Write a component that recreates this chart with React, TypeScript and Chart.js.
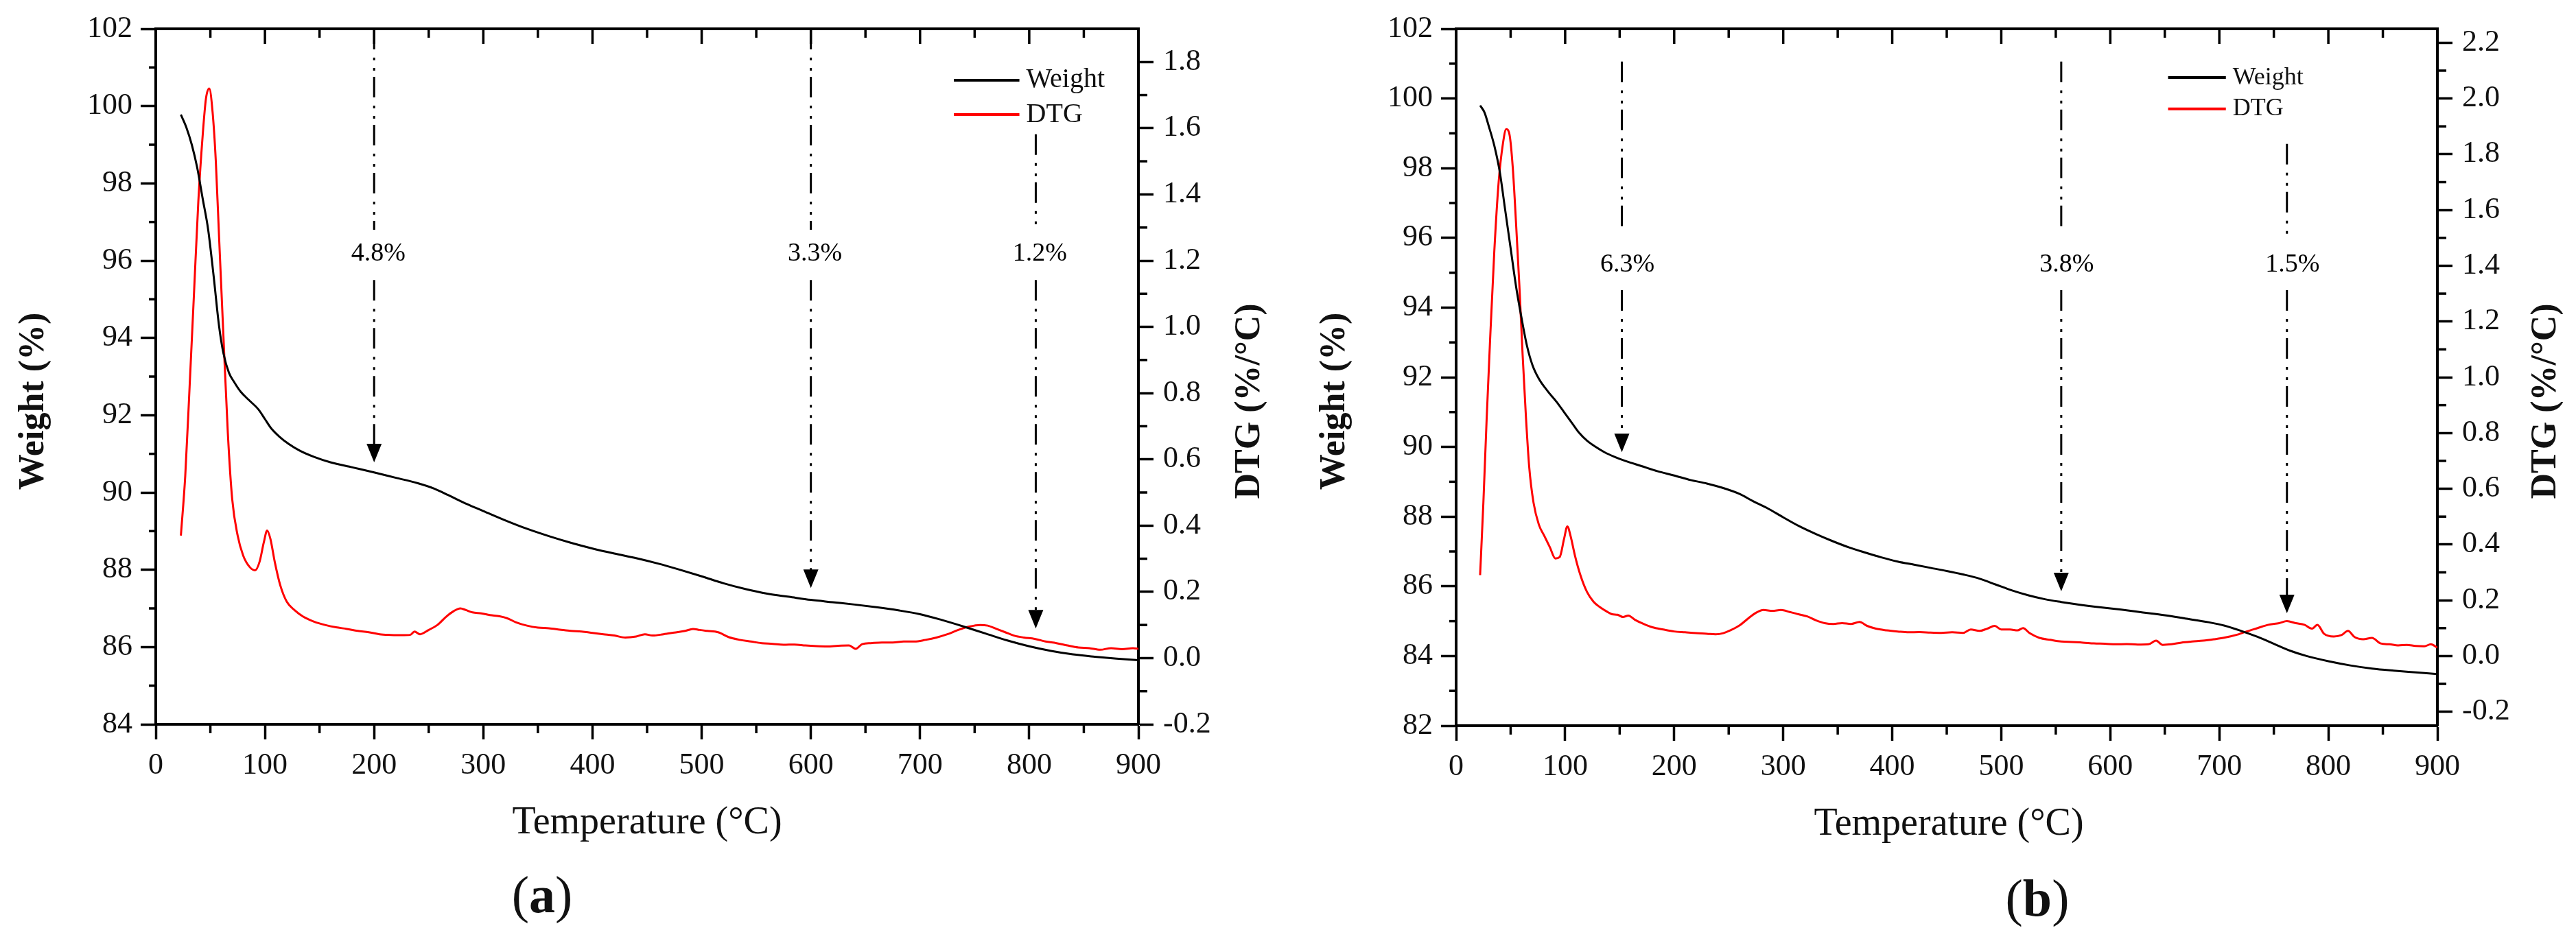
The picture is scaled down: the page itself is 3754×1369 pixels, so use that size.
import { useEffect, useRef } from "react";
import { Chart, registerables, type ChartConfiguration, type Plugin } from "chart.js";

Chart.register(...registerables);

const SERIF = '"Liberation Serif", "Times New Roman", serif';
const CW = 1877;
const CH = 1369;

/* ---------- panel (a) ---------- */
const tempWeightA = [
  23, 28, 33, 38, 43, 48, 53, 58, 62, 67, 72, 78, 85, 94, 100, 106, 113, 122, 132, 145, 160, 180, 200, 220,
  240, 255, 268, 285, 300, 320, 340, 360, 380, 400, 420, 440, 460, 480, 500, 520, 540, 560, 580, 600, 620,
  640, 660, 680, 700, 720, 740, 760, 780, 800, 820, 840, 860, 880, 900
];
const weightA = [
  99.78, 99.45, 99.0, 98.4, 97.6, 96.8, 95.6, 94.3, 93.6, 93.1, 92.85, 92.6, 92.4, 92.15, 91.9, 91.65, 91.45,
  91.25, 91.08, 90.92, 90.78, 90.65, 90.52, 90.38, 90.24, 90.1, 89.93, 89.7, 89.52, 89.28, 89.06, 88.87, 88.7,
  88.55, 88.42, 88.3, 88.16, 88.0, 87.83, 87.65, 87.5, 87.38, 87.3, 87.22, 87.16, 87.1, 87.03, 86.95, 86.85,
  86.7, 86.53, 86.35, 86.17, 86.02, 85.9, 85.81, 85.75, 85.7, 85.66
];
const tempDtgA = [
  23, 27, 31, 35, 39, 43, 46, 49, 52, 55, 58, 62, 66, 70, 75, 80, 86, 91, 95, 99, 102, 105, 109, 114, 120, 127,
  135, 145, 155, 165, 175, 185, 195, 205, 215, 225, 233, 237, 242, 250, 258, 266, 273, 279, 284, 290, 298, 306,
  315, 322, 330, 340, 350, 360, 370, 380, 390, 400, 410, 420, 430, 440, 448, 455, 465, 475, 485, 492, 498, 505,
  515, 525, 535, 545, 555, 565, 575, 585, 595, 605, 615, 625, 635, 641, 647, 655, 665, 675, 685, 695, 705, 715,
  725, 735, 745, 755, 762, 770, 778, 786, 795, 805, 815, 825, 835, 845, 855, 865, 875, 885, 895, 900
];
const dtgA = [
  0.37, 0.55, 0.82, 1.1, 1.38, 1.58, 1.69, 1.72, 1.65, 1.5, 1.27, 0.97, 0.68, 0.48, 0.37, 0.31, 0.275, 0.265,
  0.29, 0.35, 0.385, 0.36, 0.29, 0.22, 0.17, 0.145, 0.125, 0.11, 0.1, 0.093, 0.088, 0.082, 0.078, 0.072, 0.07,
  0.069, 0.07, 0.08, 0.072, 0.085, 0.1, 0.125, 0.142, 0.15, 0.145, 0.138, 0.135, 0.13, 0.126, 0.12, 0.108,
  0.098, 0.092, 0.09, 0.086, 0.082, 0.08, 0.076, 0.072, 0.068, 0.062, 0.065, 0.072, 0.068, 0.072, 0.077, 0.082,
  0.088, 0.085, 0.082, 0.078, 0.063, 0.055, 0.05, 0.045, 0.043, 0.04, 0.041, 0.038, 0.036, 0.035, 0.037, 0.038,
  0.028, 0.042, 0.045, 0.047, 0.047, 0.05, 0.05, 0.055, 0.062, 0.072, 0.085, 0.095, 0.1, 0.098, 0.088, 0.078,
  0.068, 0.062, 0.058, 0.05, 0.045, 0.038, 0.032, 0.03, 0.025, 0.03, 0.027, 0.03, 0.028
];
const stepTempA = [200, 600, 806];
const stepLossA = ["4.8%", "3.3%", "1.2%"];

/* ---------- panel (b) ---------- */
const tempWeightB = [
  22, 26, 30, 35, 40, 45, 50, 55, 60, 65, 70, 76, 84, 92, 99, 106, 113, 120, 128, 136, 145, 155, 170, 185, 200,
  215, 230, 245, 260, 272, 285, 300, 315, 330, 345, 360, 375, 390, 405, 420, 435, 450, 465, 480, 495, 510, 525,
  540, 555, 570, 590, 610, 630, 650, 670, 690, 705, 720, 735, 750, 765, 780, 800, 820, 840, 860, 880, 900
];
const weightB = [
  99.8, 99.6, 99.2, 98.65, 97.9, 96.8, 95.7, 94.6, 93.7, 92.9, 92.35, 91.95, 91.6, 91.3, 91.0, 90.7, 90.4,
  90.18, 90.0, 89.85, 89.72, 89.6, 89.45, 89.3, 89.18, 89.05, 88.95, 88.82, 88.65, 88.45, 88.25, 87.98, 87.72,
  87.5, 87.3, 87.12, 86.97, 86.83, 86.71, 86.62, 86.53, 86.44, 86.34, 86.22, 86.05, 85.88, 85.74, 85.63, 85.55,
  85.48, 85.4, 85.33, 85.25, 85.17, 85.07, 84.97, 84.87, 84.72, 84.55, 84.35, 84.15, 84.0, 83.85, 83.73, 83.64,
  83.58, 83.53, 83.48
];
const tempDtgB = [
  22, 25, 28, 31, 35, 39, 43, 46, 49, 52, 55, 58, 61, 64, 67, 71, 76, 81, 86, 91, 95, 99, 102, 105, 109, 114,
  120, 126, 132, 138, 143, 148, 153, 158, 164, 172, 180, 190, 200, 210, 220, 230, 238, 245, 252, 260, 268, 275,
  282, 290, 298, 306, 314, 322, 330, 338, 346, 354, 362, 370, 377, 385, 395, 405, 415, 425, 435, 445, 455, 465,
  472, 480, 487, 494, 500, 508, 515, 520, 526, 535, 545, 555, 565, 575, 585, 595, 605, 615, 625, 635, 642, 648,
  656, 665, 675, 685, 695, 705, 715, 725, 735, 745, 755, 762, 770, 778, 785, 790, 796, 805, 812, 818, 824, 832,
  840, 848, 856, 864, 872, 880, 888, 894, 900
];
const dtgB = [
  0.29, 0.55, 0.85, 1.12, 1.45, 1.7, 1.84, 1.89, 1.87, 1.75, 1.55, 1.33, 1.08, 0.86, 0.68, 0.55, 0.47, 0.43,
  0.39, 0.35, 0.355, 0.42, 0.465, 0.43, 0.36, 0.29, 0.23, 0.195, 0.175, 0.16, 0.15, 0.148, 0.14, 0.145, 0.13,
  0.115, 0.103, 0.095, 0.088, 0.085, 0.082, 0.08, 0.078, 0.082, 0.093, 0.11, 0.135, 0.155, 0.165, 0.162, 0.165,
  0.158, 0.15, 0.142, 0.128, 0.118, 0.115, 0.118, 0.115, 0.122, 0.108, 0.098, 0.092, 0.088, 0.085, 0.086, 0.084,
  0.083, 0.085, 0.083, 0.095, 0.09, 0.098, 0.108, 0.095, 0.095, 0.092, 0.1, 0.082, 0.065, 0.058, 0.052, 0.05,
  0.048, 0.045, 0.044, 0.042, 0.043, 0.041, 0.042, 0.055, 0.04, 0.042, 0.048, 0.052, 0.055, 0.06, 0.066, 0.075,
  0.088, 0.1, 0.112, 0.118, 0.125, 0.118, 0.112, 0.098, 0.112, 0.08, 0.07, 0.075, 0.09, 0.068, 0.06, 0.065,
  0.045, 0.042, 0.038, 0.04, 0.036, 0.035, 0.042, 0.03
];
const stepTempB = [152, 555, 762];
const stepLossB = ["6.3%", "3.8%", "1.5%"];

type Arrow = { top: number; gapTop: number; gapBot: number; tip: number; text: number };

type Panel = {
  tag: string;
  tw: number[];
  w: number[];
  td: number[];
  d: number[];
  stepT: number[];
  stepL: string[];
  wMin: number;
  wMax: number;
  dMin: number;
  dMax: number;
  area: { left: number; right: number; top: number; bottom: number };
  arrows: Arrow[];
  textDx: number;
  legend: { t0: number; t1: number; yW: number; yD: number; size: number };
  pos: { wx: number; dx: number; my: number; tx: number; ty: number; gx: number; gy: number };
};

const panelA: Panel = {
  tag: "a",
  tw: tempWeightA,
  w: weightA,
  td: tempDtgA,
  d: dtgA,
  stepT: stepTempA,
  stepL: stepLossA,
  wMin: 84,
  wMax: 102,
  dMin: -0.2,
  dMax: 1.9,
  area: { left: 227, right: 1659, top: 42, bottom: 1056 },
  arrows: [
    { top: 102, gapTop: 96.8, gapBot: 95.5, tip: 90.78, text: 96.18 },
    { top: 102, gapTop: 96.8, gapBot: 95.5, tip: 87.53, text: 96.18 },
    { top: 99.27, gapTop: 96.8, gapBot: 95.5, tip: 86.48, text: 96.18 }
  ],
  textDx: 6,
  legend: { t0: 731, t1: 791, yW: 100.67, yD: 99.78, size: 40 },
  pos: { wx: 50, dx: 1822, my: 585, tx: 943, ty: 1200, gx: 790, gy: 1310 }
};

const panelB: Panel = {
  tag: "b",
  tw: tempWeightB,
  w: weightB,
  td: tempDtgB,
  d: dtgB,
  stepT: stepTempB,
  stepL: stepLossB,
  wMin: 82,
  wMax: 102,
  dMin: -0.25,
  dMax: 2.25,
  area: { left: 245, right: 1675, top: 42, bottom: 1058 },
  arrows: [
    { top: 101.06, gapTop: 96.1, gapBot: 94.5, tip: 89.85, text: 95.23 },
    { top: 101.06, gapTop: 96.1, gapBot: 94.5, tip: 85.86, text: 95.23 },
    { top: 98.7, gapTop: 96.1, gapBot: 94.5, tip: 85.23, text: 95.23 }
  ],
  textDx: 8,
  legend: { t0: 653, t1: 706, yW: 100.6, yD: 99.7, size: 36 },
  pos: { wx: 69, dx: 1834, my: 585, tx: 963, ty: 1202, gx: 1092, gy: 1315 }
};

function zip(xs: number[], ys: number[]) {
  return xs.map((x, i) => ({ x, y: ys[i] }));
}

function decor(p: Panel): Plugin<"line"> {
  return {
    id: "decor" + p.tag,
    afterDraw(chart) {
      const { ctx, chartArea: a } = chart;
      const sx = chart.scales.x;
      const sy = chart.scales.y;
      const sd = chart.scales.y1;
      const seg = (x1: number, y1: number, x2: number, y2: number) => {
        ctx.beginPath();
        ctx.moveTo(x1, y1);
        ctx.lineTo(x2, y2);
        ctx.stroke();
      };
      ctx.save();
      ctx.strokeStyle = "#000";
      ctx.fillStyle = "#000";
      ctx.lineCap = "butt";

      // top frame + inward ticks, minor ticks on the other sides
      ctx.lineWidth = 4;
      seg(a.left - 2, a.top, a.right + 2, a.top);
      ctx.lineWidth = 3.5;
      for (let t = 50; t < 900; t += 50) {
        const px = sx.getPixelForValue(t);
        const major = t % 100 === 0;
        seg(px, a.top, px, a.top + (major ? 22 : 13));
        if (!major) seg(px, a.bottom, px, a.bottom + 13);
      }
      for (let v = p.wMin + 1; v < p.wMax; v += 2) {
        const py = sy.getPixelForValue(v);
        seg(a.left - 10, py, a.left, py);
      }
      for (let k = Math.ceil(p.dMin * 10); k <= Math.floor(p.dMax * 10); k++) {
        if (k % 2 === 0) continue;
        const v = k / 10;
        if (v <= p.dMin || v >= p.dMax) continue;
        const py = sd.getPixelForValue(v);
        seg(a.right, py, a.right + 13, py);
      }

      // mass-loss arrows
      ctx.lineWidth = 3;
      ctx.setLineDash([30, 12, 4, 11, 4, 9]);
      p.stepT.forEach((t, i) => {
        const ar = p.arrows[i];
        const px = sx.getPixelForValue(t);
        const yTip = sy.getPixelForValue(ar.tip);
        seg(px, sy.getPixelForValue(ar.top), px, sy.getPixelForValue(ar.gapTop));
        seg(px, sy.getPixelForValue(ar.gapBot), px, yTip - 24);
      });
      ctx.setLineDash([]);
      ctx.font = `38px ${SERIF}`;
      ctx.textAlign = "center";
      ctx.textBaseline = "middle";
      p.stepT.forEach((t, i) => {
        const ar = p.arrows[i];
        const px = sx.getPixelForValue(t);
        const yTip = sy.getPixelForValue(ar.tip);
        ctx.beginPath();
        ctx.moveTo(px - 11, yTip - 27);
        ctx.lineTo(px + 11, yTip - 27);
        ctx.lineTo(px, yTip);
        ctx.closePath();
        ctx.fill();
        ctx.fillText(p.stepL[i], px + p.textDx, sy.getPixelForValue(ar.text));
      });

      // legend
      const lg = p.legend;
      const lx0 = sx.getPixelForValue(lg.t0);
      const lx1 = sx.getPixelForValue(lg.t1);
      ctx.lineWidth = 4;
      ctx.strokeStyle = "#000";
      seg(lx0, sy.getPixelForValue(lg.yW), lx1, sy.getPixelForValue(lg.yW));
      ctx.strokeStyle = "#ff0000";
      seg(lx0, sy.getPixelForValue(lg.yD), lx1, sy.getPixelForValue(lg.yD));
      ctx.font = `${lg.size}px ${SERIF}`;
      ctx.textAlign = "left";
      ctx.fillStyle = "#111";
      ctx.fillText("Weight", lx1 + 10, sy.getPixelForValue(lg.yW));
      ctx.fillText("DTG", lx1 + 10, sy.getPixelForValue(lg.yD));

      // axis titles
      const ps = p.pos;
      ctx.textAlign = "center";
      ctx.font = `bold 52px ${SERIF}`;
      ctx.save();
      ctx.translate(ps.wx, ps.my);
      ctx.rotate(-Math.PI / 2);
      ctx.fillText("Weight (%)", 0, 0);
      ctx.restore();
      ctx.save();
      ctx.translate(ps.dx, ps.my);
      ctx.rotate(-Math.PI / 2);
      ctx.fillText("DTG (%/°C)", 0, 0);
      ctx.restore();
      ctx.font = `56px ${SERIF}`;
      ctx.fillText("Temperature (°C)", ps.tx, ps.ty);

      // panel tag "(a)" with bold letter
      const reg = `76px ${SERIF}`;
      const bold = `bold 76px ${SERIF}`;
      ctx.font = reg;
      const wp = ctx.measureText("(").width;
      const wq = ctx.measureText(")").width;
      ctx.font = bold;
      const wl = ctx.measureText(p.tag).width;
      let gx = ps.gx - (wp + wl + wq) / 2;
      ctx.textAlign = "left";
      ctx.font = reg;
      ctx.fillText("(", gx, ps.gy);
      gx += wp;
      ctx.font = bold;
      ctx.fillText(p.tag, gx, ps.gy);
      gx += wl;
      ctx.font = reg;
      ctx.fillText(")", gx, ps.gy);

      ctx.restore();
    }
  };
}

function makeConfig(p: Panel): ChartConfiguration<"line"> {
  const tickFont = { family: SERIF, size: 44 };
  const grid = {
    drawOnChartArea: false,
    drawTicks: true,
    tickLength: 22,
    tickWidth: 3.5,
    tickColor: "#000",
    color: "#000"
  };
  const border = { display: true, color: "#000", width: 4 };
  return {
    type: "line",
    data: {
      datasets: [
        {
          label: "Weight",
          data: zip(p.tw, p.w),
          borderColor: "#000",
          borderWidth: 3,
          pointRadius: 0,
          cubicInterpolationMode: "monotone",
          yAxisID: "y"
        },
        {
          label: "DTG",
          data: zip(p.td, p.d),
          borderColor: "#ff0000",
          borderWidth: 3,
          pointRadius: 0,
          cubicInterpolationMode: "monotone",
          yAxisID: "y1"
        }
      ]
    },
    options: {
      animation: false,
      responsive: false,
      devicePixelRatio: 1,
      events: [],
      layout: { padding: { top: p.area.top, left: 0, right: 0, bottom: 0 } },
      plugins: { legend: { display: false }, tooltip: { enabled: false }, title: { display: false } },
      scales: {
        x: {
          type: "linear",
          position: "bottom",
          min: 0,
          max: 900,
          ticks: { stepSize: 100, font: tickFont, color: "#111", padding: 12, maxRotation: 0 },
          grid,
          border,
          afterFit: (s) => {
            s.height = CH - p.area.bottom;
          }
        },
        y: {
          type: "linear",
          position: "left",
          min: p.wMin,
          max: p.wMax,
          ticks: { stepSize: 2, font: tickFont, color: "#111", padding: 12 },
          grid,
          border,
          afterFit: (s) => {
            s.width = p.area.left;
          }
        },
        y1: {
          type: "linear",
          position: "right",
          min: p.dMin,
          max: p.dMax,
          ticks: {
            stepSize: 0.2,
            includeBounds: false,
            font: tickFont,
            color: "#111",
            padding: 14,
            callback: (v) => Number(v).toFixed(1)
          },
          grid,
          border,
          afterFit: (s) => {
            s.width = CW - p.area.right;
          }
        }
      }
    },
    plugins: [decor(p)]
  };
}

function TgaPanel({ panel, left }: { panel: Panel; left: number }) {
  const ref = useRef<HTMLCanvasElement | null>(null);
  useEffect(() => {
    if (!ref.current) return;
    const chart = new Chart(ref.current, makeConfig(panel));
    return () => chart.destroy();
  }, [panel]);
  return (
    <canvas
      ref={ref}
      width={CW}
      height={CH}
      style={{ position: "absolute", left, top: 0, width: CW, height: CH }}
    />
  );
}

export default function App() {
  return (
    <div style={{ position: "absolute", left: 0, top: 0, width: 3754, height: 1369, background: "#fff" }}>
      <TgaPanel panel={panelA} left={0} />
      <TgaPanel panel={panelB} left={CW} />
    </div>
  );
}
